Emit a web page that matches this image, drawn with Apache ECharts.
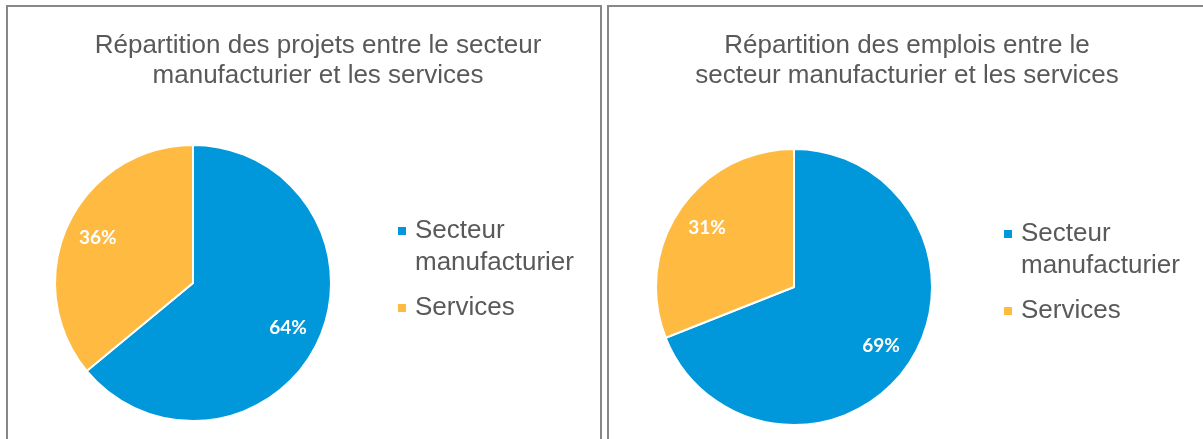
<!DOCTYPE html>
<html>
<head>
<meta charset="utf-8">
<script src="https://cdn.jsdelivr.net/npm/echarts@6/dist/echarts.min.js"></script>
<style>
  html, body { margin: 0; padding: 0; background: #fff; overflow: hidden; }
  .panel {
    position: absolute;
    box-sizing: border-box;
    border: 2px solid #878787;
    background: #fff;
  }
  #left { left: 6px; top: 5px; width: 596px; height: 450px; }
  #right { left: 607px; top: 5px; width: 610px; height: 450px; }
  .chart { width: 100%; height: 100%; }
</style>
</head>
<body>
<div class="panel" id="left"><div class="chart" id="chartLeft"></div></div>
<div class="panel" id="right"><div class="chart" id="chartRight"></div></div>
<script>
const categories = ["Secteur manufacturier", "Services"];
const legendLabels = ["{p| }\n{a|Secteur}\n{a|manufacturier}", "{a|Services}"];
const projetsShare = [64, 36];
const emploisShare = [69, 31];
const titleProjets = "Répartition des projets entre le secteur\nmanufacturier et les services";
const titleEmplois = "Répartition des emplois entre le\nsecteur manufacturier et les services";

const colors = ["#0098DA", "#FFBA41"];
const textGray = "#595959";
const font = "Liberation Sans";

function makeOption(title, values, layout) {
  const data = categories.map((name, i) => ({ name, value: values[i] }));
  const legendText = {
    color: textGray,
    fontFamily: font,
    fontSize: 26,
    lineHeight: 32,
    padding: [0, 0, 0, 3],
  };
  return {
    animation: false,
    color: colors,
    title: {
      text: title,
      left: layout.titleX,
      top: layout.titleY,
      textAlign: "center",
      textStyle: {
        color: textGray,
        fontFamily: font,
        fontSize: 26,
        fontWeight: "normal",
        lineHeight: 30,
      },
    },
    legend: {
      orient: "vertical",
      left: layout.legendX,
      top: layout.legendY,
      icon: "rect",
      itemWidth: 10,
      itemHeight: 10,
      itemGap: layout.legendGap,
      formatter: (name) => legendLabels[categories.indexOf(name)],
      textStyle: {
        color: textGray,
        fontFamily: font,
        fontSize: 26,
        lineHeight: 32,
        rich: {
          a: legendText,
          p: { fontSize: 26, lineHeight: 32 },
        },
      },
      data: categories,
    },
    series: [
      {
        type: "pie",
        center: layout.center,
        radius: layout.radius,
        startAngle: 90,
        clockwise: true,
        label: { show: false },
        labelLine: { show: false },
        itemStyle: { borderColor: "#fff", borderWidth: 2 },
        emphasis: { disabled: true },
        data,
      },
      {
        type: "pie",
        center: layout.center,
        radius: [layout.radius * 0.48, layout.radius],
        startAngle: 90,
        clockwise: true,
        silent: true,
        itemStyle: { color: "transparent", borderWidth: 0 },
        labelLine: { show: false },
        label: {
          show: true,
          position: "inside",
          formatter: "{c}%",
          color: "#fff",
          fontFamily: "Lato",
          fontWeight: "bold",
          fontSize: 19,
        },
        emphasis: { disabled: true },
        data,
      },
    ],
  };
}

const chartLeft = echarts.init(document.getElementById("chartLeft"));
chartLeft.setOption(
  makeOption(titleProjets, projetsShare, {
    titleX: 305,
    titleY: 19,
    legendX: 383,
    legendY: 171,
    legendGap: 13,
    center: [185, 276],
    radius: 138,
  })
);

const chartRight = echarts.init(document.getElementById("chartRight"));
chartRight.setOption(
  makeOption(titleEmplois, emploisShare, {
    titleX: 293,
    titleY: 19,
    legendX: 388,
    legendY: 174,
    legendGap: 13,
    center: [185, 280],
    radius: 138,
  })
);
</script>
</body>
</html>
